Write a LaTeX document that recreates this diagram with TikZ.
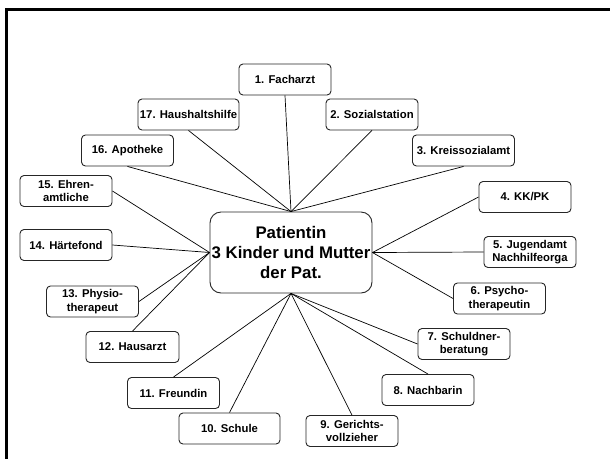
\documentclass[tikz,border=0pt]{standalone}
\usepackage{fontspec}
\setmainfont{Liberation Sans}
\begin{document}
\begin{tikzpicture}[x=1pt,y=-1pt,
  box/.style={draw=black!85,line width=0.9pt,rounded corners=4pt,inner sep=0pt,
    minimum width=92pt,minimum height=31pt,align=center,
    font=\fontsize{11.3}{13.5}\selectfont\bfseries},
  centre/.style={draw=black!85,line width=0.9pt,rounded corners=11pt,inner sep=0pt,
    minimum width=162pt,minimum height=81pt,align=center,
    font=\fontsize{16.8}{19.8}\selectfont\bfseries},
  link/.style={draw=black,line width=0.7pt}]
\useasboundingbox (0,0) rectangle (610,459);
\fill[white] (0,0) rectangle (610,459);
\coordinate (tl) at (6,9);
\coordinate (tr) at (610,9);
\coordinate (bl) at (6,459);
\draw[line width=3pt] (tr) -- (tl) -- (bl);

\node[centre] (c) at (291,252.5) {Patientin\\3 Kinder und Mutter\\der Pat.};

\node[box] (n1) at (285,79.5) {1. Facharzt};
\node[box] (n2) at (372,114.5) {2. Sozialstation};
\node[box,minimum width=102pt] (n3) at (463.5,150.5) {3. Kreissozialamt};
\node[box] (n4) at (525,197) {4. KK/PK};
\node[box] (n5) at (530,252) {5. Jugendamt\\Nachhilfeorga};
\node[box] (n6) at (499.5,298.5) {6. Psycho-\\therapeutin};
\node[box] (n7) at (464,344) {7. Schuldner-\\beratung};
\node[box] (n8) at (428,390) {8. Nachbarin};
\node[box] (n9) at (352,431) {9. Gerichts-\\vollzieher};
\node[box,minimum width=101pt] (n10) at (229.5,428.5) {10. Schule};
\node[box] (n11) at (173.5,393) {11. Freundin};
\node[box,minimum width=93pt] (n12) at (132.5,347) {12. Hausarzt};
\node[box] (n13) at (92.5,301.5) {13. Physio-\\therapeut};
\node[box] (n14) at (66,245) {14. Härtefond};
\node[box] (n15) at (66,191) {15. Ehren-\\amtliche};
\node[box] (n16) at (127.5,150.5) {16. Apotheke};
\node[box,minimum width=101pt] (n17) at (188.5,114.5) {17. Haushaltshilfe};

\draw[link] (n1.south) -- (c.north);
\draw[link] (n2.south) -- (c.north);
\draw[link] (n3.south) -- (c.north);
\draw[link] (n17.south) -- (c.north);
\draw[link] (n16.south) -- (c.north);
\draw[link] (n15.east) -- (c.west);
\draw[link] (n14.east) -- (c.west);
\draw[link] (n13.east) -- (c.west);
\draw[link] (n12.north) -- (c.west);
\draw[link] (n4.west) -- (c.east);
\draw[link] (n5.west) -- (c.east);
\draw[link] (n6.west) -- (c.east);
\draw[link] (n7.west) -- (c.south);
\draw[link] (n8.north) -- (c.south);
\draw[link] (n9.north) -- (c.south);
\draw[link] (n10.north) -- (c.south);
\draw[link] (n11.north) -- (c.south);
\end{tikzpicture}
\end{document}
